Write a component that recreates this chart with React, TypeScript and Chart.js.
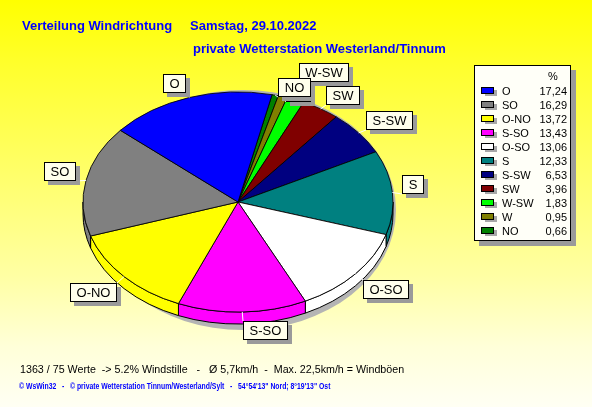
import { useEffect, useRef } from 'react';
import { Chart, registerables } from 'chart.js';

Chart.register(...registerables);

// Wind direction shares in percent, largest first (legend order)
const directions = ['O', 'SO', 'O-NO', 'S-SO', 'O-SO', 'S', 'S-SW', 'SW', 'W-SW', 'W', 'NO'];
const shares = [17.24, 16.29, 13.72, 13.43, 13.06, 12.33, 6.53, 3.96, 1.83, 0.95, 0.66];
const sliceColors = [
  '#0000FF', '#808080', '#FFFF00', '#FF00FF', '#FFFFFF', '#008080',
  '#000080', '#800000', '#00FF00', '#808000', '#008000',
];

const titleText = 'Verteilung Windrichtung';
const dateText = 'Samstag, 29.10.2022';
const stationText = 'private Wetterstation Westerland/Tinnum';
const statsText = '1363 / 75 Werte  -> 5.2% Windstille   -   Ø 5,7km/h  -  Max. 22,5km/h = Windböen';
const footerText = '© WsWin32   -   © private Wetterstation Tinnum/Westerland/Sylt   -   54°54\'13" Nord; 8°19\'13" Ost';
const legendHeader = '%';

// Canvas and pie styling
const WIDTH = 592;
const HEIGHT = 407;
const TILT = 0.71; // vertical squash of the pie disc
const DEPTH = 12; // height of the pie's rim
const START_DEG = 12.7;
const BLUE = '#0000FF';
const SANS = '"Liberation Sans", Arial, sans-serif';
// small vertical shifts for crowded slice labels
const labelNudgeY: Record<string, number> = { 'W-SW': -13, W: 10, NO: 6.5 };

const fmt = (v: number) => v.toFixed(2).replace('.', ',');

// The pie is drawn clockwise, the slices run counter-clockwise, so feed them reversed.
const pieLabels = [...directions].reverse();
const pieValues = [...shares].reverse();
const pieColors = [...sliceColors].reverse();

function drawBox(ctx: CanvasRenderingContext2D, x: number, y: number, w: number, h: number, shadow: number, fill: string) {
  ctx.fillStyle = '#9a9a9a';
  ctx.fillRect(x + shadow, y + shadow, w, h);
  ctx.fillStyle = fill;
  ctx.fillRect(x, y, w, h);
  ctx.strokeStyle = '#000';
  ctx.lineWidth = 1;
  ctx.strokeRect(x + 0.5, y + 0.5, w - 1, h - 1);
}

const pie3d = {
  id: 'pie3d',
  beforeDraw(chart: any) {
    const ctx: CanvasRenderingContext2D = chart.ctx;
    const g = ctx.createLinearGradient(0, 0, 0, HEIGHT);
    g.addColorStop(0, '#FFFF00');
    g.addColorStop(0.15, '#FFFF2a');
    g.addColorStop(0.35, '#FFFF58');
    g.addColorStop(0.68, '#FFFFA4');
    g.addColorStop(0.85, '#FFFFD8');
    g.addColorStop(1, '#FFFFF4');
    ctx.save();
    ctx.fillStyle = g;
    ctx.fillRect(0, 0, WIDTH, HEIGHT);
    ctx.restore();
  },
  beforeDatasetsDraw(chart: any) {
    const ctx: CanvasRenderingContext2D = chart.ctx;
    const arcs = chart.getDatasetMeta(0).data as any[];
    const cx = arcs[0].x;
    const cy = arcs[0].y;
    const rx = arcs[0].outerRadius;
    const ry = rx * TILT;
    ctx.save();
    // drop shadow under the disc
    ctx.fillStyle = '#b4b4b4';
    ctx.beginPath();
    ctx.ellipse(cx + 5, cy + (DEPTH + 4) / 2, rx - 2, ry + (DEPTH + 8) / 2, 0, 0, Math.PI * 2);
    ctx.fill();
    // rim: only the front half (0..PI) of every slice is visible
    ctx.lineWidth = 1;
    ctx.strokeStyle = '#000';
    arcs.forEach((arc) => {
      for (let n = -1; n <= 2; n++) {
        const a = Math.max(arc.startAngle, 2 * Math.PI * n);
        const b = Math.min(arc.endAngle, 2 * Math.PI * n + Math.PI);
        if (b <= a) continue;
        ctx.beginPath();
        ctx.ellipse(cx, cy, rx, ry, 0, a, b, false);
        ctx.ellipse(cx, cy + DEPTH, rx, ry, 0, b, a, true);
        ctx.closePath();
        ctx.fillStyle = arc.options.backgroundColor;
        ctx.fill();
        ctx.stroke();
      }
    });
    // top face: squash the circular pie into an ellipse
    ctx.translate(cx, cy);
    ctx.scale(1, TILT);
    ctx.translate(-cx, -cy);
  },
  afterDatasetsDraw(chart: any) {
    chart.ctx.restore();
  },
  afterDraw(chart: any) {
    const ctx: CanvasRenderingContext2D = chart.ctx;
    const arcs = chart.getDatasetMeta(0).data as any[];
    const cx = arcs[0].x;
    const cy = arcs[0].y;
    const rx = arcs[0].outerRadius;
    const ry = rx * TILT;
    const n = directions.length;
    ctx.save();

    // slice labels with leader lines
    ctx.font = `13px ${SANS}`;
    const boxes: { name: string; x: number; y: number; w: number; h: number; ex: number; ey: number; ax: number; ay: number }[] = [];
    directions.forEach((name, i) => {
      const arc = arcs[n - 1 - i];
      const mid = (arc.startAngle + arc.endAngle) / 2;
      const c = Math.cos(mid);
      const s = Math.sin(mid);
      const ex = cx + rx * c;
      const ey = cy + ry * s;
      const ax = Math.round(cx + (rx + 10) * c);
      const ay = Math.round(cy + 2 + (ry + 7) * s + (labelNudgeY[name] ?? 0));
      const w = Math.round(ctx.measureText(name).width + 13);
      const h = 19;
      const x = c >= 0 ? ax : ax - w;
      const y = s < 0 ? ay - h : ay;
      boxes.push({ name, x, y, w, h, ex, ey, ax, ay });
    });
    ctx.strokeStyle = '#FFFFFF';
    ctx.lineWidth = 1;
    boxes.forEach((b) => {
      ctx.beginPath();
      ctx.moveTo(b.ex, b.ey);
      ctx.lineTo(b.ax, b.ay);
      ctx.stroke();
    });
    boxes.forEach((b) => {
      drawBox(ctx, b.x, b.y, b.w, b.h, 4, '#FFFFEC');
      ctx.fillStyle = '#000';
      ctx.textAlign = 'center';
      ctx.textBaseline = 'middle';
      ctx.fillText(b.name, b.x + b.w / 2, b.y + b.h / 2 + 1);
    });

    // legend
    drawBox(ctx, 474, 65, 97, 176, 5, '#FFFFF8');
    ctx.font = `11px ${SANS}`;
    ctx.fillStyle = '#000';
    ctx.textBaseline = 'middle';
    ctx.textAlign = 'center';
    ctx.fillText(legendHeader, 553, 77);
    directions.forEach((name, i) => {
      const y = 91 + i * 14;
      ctx.fillStyle = '#a8a8a8';
      ctx.fillRect(485, y - 1, 12, 6);
      ctx.fillStyle = sliceColors[i];
      ctx.fillRect(481, y - 4, 13, 7);
      ctx.strokeStyle = '#000';
      ctx.strokeRect(481.5, y - 3.5, 12, 6);
      ctx.fillStyle = '#000';
      ctx.textAlign = 'left';
      ctx.fillText(name, 502, y + 0.5);
      ctx.textAlign = 'right';
      ctx.fillText(fmt(shares[i]), 567, y + 0.5);
    });

    // headings
    ctx.textBaseline = 'alphabetic';
    ctx.textAlign = 'left';
    ctx.fillStyle = BLUE;
    ctx.font = `bold 13px ${SANS}`;
    ctx.fillText(titleText, 22, 30);
    ctx.fillText(dateText, 190, 30);
    ctx.fillText(stationText, 193, 52.5);

    // statistics line
    ctx.fillStyle = '#000';
    ctx.font = `10.7px ${SANS}`;
    ctx.fillText(statsText, 20, 372.5);

    // footer in a narrow small type
    ctx.fillStyle = BLUE;
    ctx.font = `bold 9px ${SANS}`;
    ctx.translate(19, 389);
    ctx.scale(0.76, 1);
    ctx.fillText(footerText, 0, 0);
    ctx.restore();
  },
};

export default function App() {
  const canvasRef = useRef<HTMLCanvasElement | null>(null);

  useEffect(() => {
    document.body.style.margin = '0';
    const canvas = canvasRef.current;
    if (!canvas) return;
    const chart = new Chart(canvas, {
      type: 'pie',
      data: {
        labels: pieLabels,
        datasets: [
          {
            data: pieValues,
            backgroundColor: pieColors,
            borderColor: '#000000',
            borderWidth: 1,
            radius: 155,
            clip: false,
          } as any,
        ],
      },
      options: {
        animation: false,
        responsive: false,
        events: [],
        rotation: START_DEG,
        layout: { padding: { left: 83, right: 199, top: 47, bottom: 50 } },
        plugins: {
          legend: { display: false },
          tooltip: { enabled: false },
          title: { display: false },
        },
      },
      plugins: [pie3d],
    });
    return () => chart.destroy();
  }, []);

  return (
    <div style={{ width: WIDTH, height: HEIGHT }}>
      <canvas ref={canvasRef} width={WIDTH} height={HEIGHT} style={{ display: 'block' }} />
    </div>
  );
}
